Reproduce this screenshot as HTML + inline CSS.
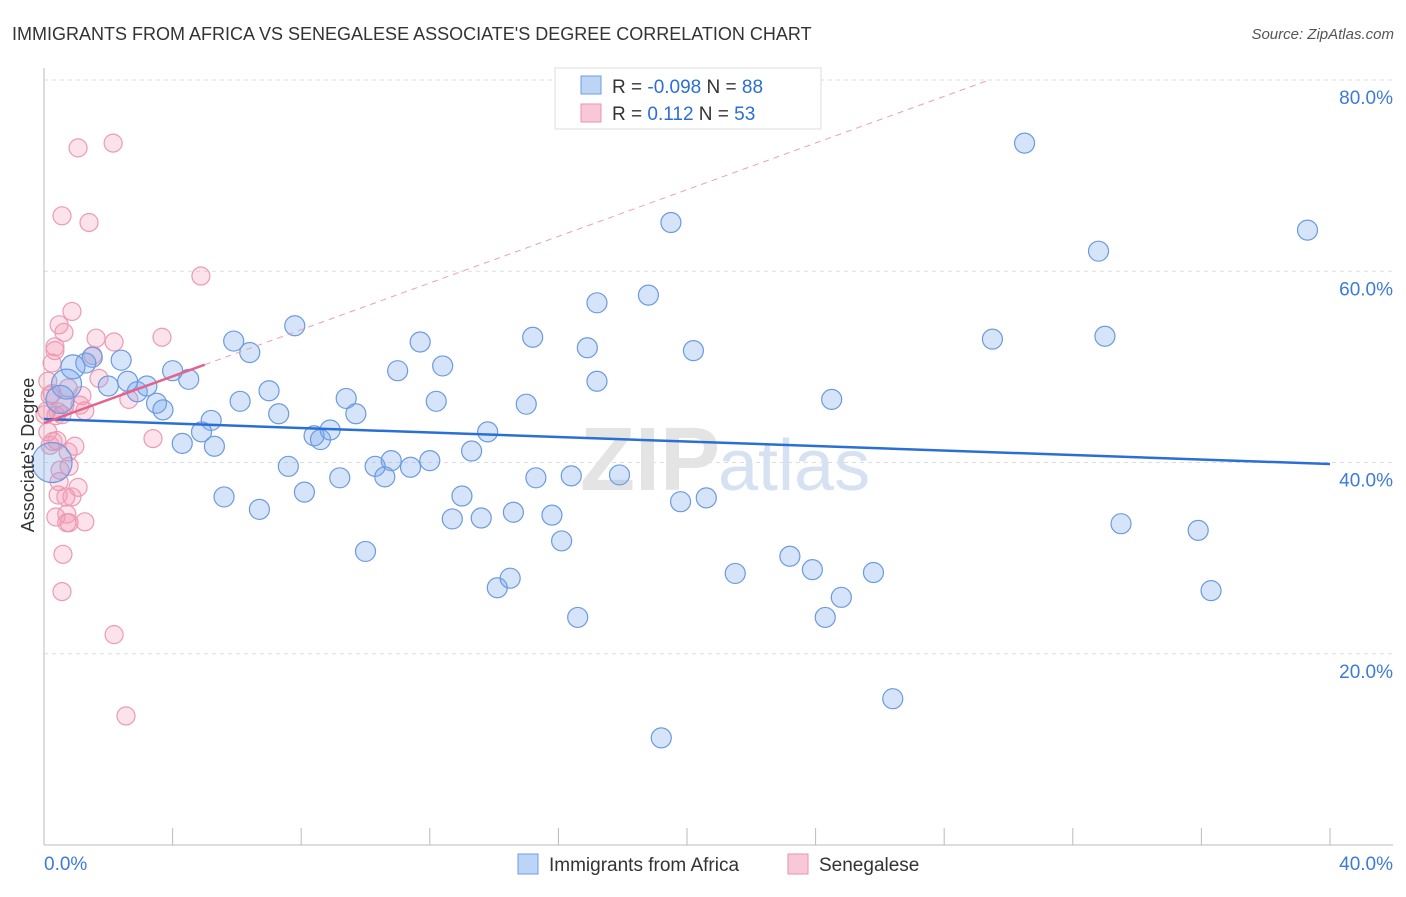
<!DOCTYPE html>
<html><head><meta charset="utf-8"><style>
body{margin:0;background:#fff;font-family:"Liberation Sans",sans-serif;}
svg text{font-family:"Liberation Sans",sans-serif;}
</style></head><body>
<svg id="chart" width="1406" height="892">
<text x="12" y="40" font-size="18" fill="#333">IMMIGRANTS FROM AFRICA VS SENEGALESE ASSOCIATE'S DEGREE CORRELATION CHART</text>
<text x="1394" y="39" font-size="15" fill="#555" font-style="italic" text-anchor="end">Source: ZipAtlas.com</text>
<g id="grid"></g>
<text x="720" y="490" font-size="90" font-family="Liberation Serif" fill="#e4e4e4" text-anchor="end" font-weight="bold">ZIP</text>
<text x="718" y="490" font-size="72" fill="#d6e2f2">atlas</text>
<g id="marks"></g>
<text x="34" y="455" font-size="18" fill="#333" text-anchor="middle" transform="rotate(-90 34 455)">Associate's Degree</text>
<g>
<rect x="555" y="68" width="266" height="61" fill="#fff" stroke="#ddd"/>
<rect x="581" y="76" width="20" height="18" fill="#bcd4f5" stroke="#6d9ee0"/>
<rect x="581" y="104" width="20" height="18" fill="#f9c8d7" stroke="#ea93ae"/>
<text x="612" y="93" font-size="19" fill="#333">R = <tspan fill="#2a6fd6">-0.098</tspan>   N = <tspan fill="#2a6fd6">88</tspan></text>
<text x="612" y="120" font-size="19" fill="#333">R =    <tspan fill="#2a6fd6">0.112</tspan>   N = <tspan fill="#2a6fd6">53</tspan></text>
</g>
<g>
<rect x="518" y="854" width="20" height="20" fill="#bcd4f5" stroke="#6d9ee0"/>
<text x="549" y="871" font-size="19" fill="#333">Immigrants from Africa</text>
<rect x="788" y="854" width="20" height="20" fill="#f9c8d7" stroke="#ea93ae"/>
<text x="819" y="871" font-size="19" fill="#333">Senegalese</text>
</g>
</svg>
<script>
const yTicks=[20,40,60,80];
const yTickLabels=["20.0%","40.0%","60.0%","80.0%"];
const xTicks=[0,4,8,12,16,20,24,28,32,36,40];
const blueX=[30.5,19.5,39.3,32.8,17.2,18.8,7.8,5.9,6.4,2.4,1.5,1.3,0.9,0.7,0.5,2.0,2.6,2.9,3.2,4.0,4.5,3.5,3.7,5.2,4.9,4.3,5.3,6.1,7.0,7.3,8.4,8.6,8.9,9.4,9.7,11.0,11.7,12.4,12.2,15.2,16.9,17.2,20.2,15.0,13.8,13.3,12.0,11.4,10.8,10.3,10.6,9.2,7.6,8.1,6.7,5.6,10.0,13.0,12.7,13.6,14.6,15.8,16.1,15.3,16.4,17.9,19.8,20.6,14.1,14.5,16.6,21.5,23.2,23.9,24.8,24.3,25.8,24.5,26.4,19.2,29.5,33.0,33.5,35.9,36.3,0.25];
const blueY=[73.4,65.1,64.3,62.1,56.7,57.5,54.3,52.7,51.5,50.7,51.0,50.4,50.0,48.2,46.6,48.0,48.5,47.4,48.0,49.6,48.7,46.2,45.5,44.4,43.2,42.0,41.7,46.4,47.5,45.1,42.8,42.4,43.4,46.7,45.1,49.6,52.6,50.1,46.4,53.1,52.0,48.5,51.7,46.1,43.2,41.2,40.2,39.5,40.2,39.6,38.5,38.4,39.6,36.9,35.1,36.4,30.7,36.5,34.1,34.2,34.8,34.5,31.8,38.4,38.6,38.7,35.9,36.3,26.9,27.9,23.8,28.4,30.2,28.8,25.9,23.8,28.5,46.6,15.3,11.2,52.9,53.2,33.6,32.9,26.6,40.0];
const blueR=[10,10,10,10,10,10,10,10,10,10,10,10,12,15,14,10,10,10,10,10,10,10,10,10,10,10,10,10,10,10,10,10,10,10,10,10,10,10,10,10,10,10,10,10,10,10,10,10,10,10,10,10,10,10,10,10,10,10,10,10,10,10,10,10,10,10,10,10,10,10,10,10,10,10,10,10,10,10,10,10,10,10,10,10,10,20];
const pinkX=[1.06,2.15,0.56,1.40,4.88,0.87,0.62,0.47,0.34,0.25,0.12,0.25,0.09,0.37,0.56,0.65,0.75,1.62,2.18,3.67,1.52,1.71,1.27,1.18,2.64,3.39,0.28,0.40,0.96,0.75,0.78,0.47,0.44,0.87,1.06,0.68,0.37,0.71,0.71,0.78,1.27,0.59,0.56,2.18,2.55,0.12,0.03,0.19,0.50,0.34,0.19,0.44,1.12];
const pinkY=[72.9,73.4,65.8,65.1,59.5,55.8,53.6,54.4,52.1,50.4,48.5,47.2,45.4,44.9,45.0,46.0,47.8,53.0,52.6,53.1,51.2,48.8,45.4,47.0,46.6,42.5,42.2,42.3,41.7,41.1,39.6,38.0,36.6,36.4,37.4,36.4,34.3,34.6,33.7,33.7,33.8,30.4,26.5,22.0,13.5,43.2,45.0,41.8,39.2,51.7,47.0,45.3,46.0];
const pinkR=[9,9,9,9,9,9,9,9,9,9,9,9,9,9,9,9,9,9,9,9,9,9,9,9,9,9,9,9,9,9,9,9,9,9,9,9,9,9,9,9,9,9,9,9,9,9,9,9,9,9,9,9,9];
const blueTrend=[44.55,39.84];
const pinkTrend=[44.13,1.22];
const X=v=>44+v/40*1286, Y=v=>845-v*9.5625;
const NS="http://www.w3.org/2000/svg";
function mk(t,a,p){const e=document.createElementNS(NS,t);for(const k in a)e.setAttribute(k,a[k]);p.appendChild(e);return e;}
const g=document.getElementById('grid'),m=document.getElementById('marks');
yTicks.forEach((t,i)=>{
 const l=mk('line',{x1:44,x2:1393,y1:Y(t),y2:Y(t),stroke:'#ddd','stroke-dasharray':'4,4'},g);
 
 
 const tx=mk('text',{x:1393,y:Y(t)+24,'font-size':19,fill:'#3d7bd8','text-anchor':'end'},g);
 tx.textContent=yTickLabels[i];
 
 
});
mk('line',{x1:44,x2:1393,y1:80,y2:80,stroke:'#ddd','stroke-dasharray':'4,4'},g);
mk('line',{x1:44,x2:44,y1:68,y2:845,stroke:'#bbb'},g);
mk('line',{x1:44,x2:1393,y1:845,y2:845,stroke:'#bbb'},g);
xTicks.forEach(t=>{const l=mk('line',{x1:X(t),x2:X(t),y1:828,y2:845,stroke:'#bbb'},g);
 
 });
const x0=mk('text',{x:44,y:870,'font-size':19,fill:'#3d7bd8'},g);x0.textContent='0.0%';


const x1=mk('text',{x:1393,y:870,'font-size':19,fill:'#3d7bd8','text-anchor':'end'},g);x1.textContent='40.0%';


pinkX.forEach((v,i)=>{const c=mk('circle',{cx:X(v),cy:Y(pinkY[i]),r:pinkR[i],fill:'rgba(244,150,180,0.28)',stroke:'#ec9ab3','stroke-width':1.2},m);
 
 });
blueX.forEach((v,i)=>{const c=mk('circle',{cx:X(v),cy:Y(blueY[i]),r:blueR[i],fill:'rgba(120,165,235,0.3)',stroke:'#6b9ae0','stroke-width':1.2},m);
 
 });
const bt=mk('line',{x1:X(0),y1:Y(blueTrend[0]),x2:X(40),y2:Y(blueTrend[1]),stroke:'#2a6fd6','stroke-width':2.5},m);


const xe=(80-pinkTrend[0])/pinkTrend[1];
const pd=mk('line',{x1:X(5),y1:Y(pinkTrend[0]+5*pinkTrend[1]),x2:X(xe),y2:Y(80),stroke:'#e8a0b8','stroke-width':1,'stroke-dasharray':'6,5'},m);


const pt=mk('line',{x1:X(0),y1:Y(pinkTrend[0]),x2:X(5),y2:Y(pinkTrend[0]+5*pinkTrend[1]),stroke:'#e0648e','stroke-width':2.5},m);


</script>
</body></html>
